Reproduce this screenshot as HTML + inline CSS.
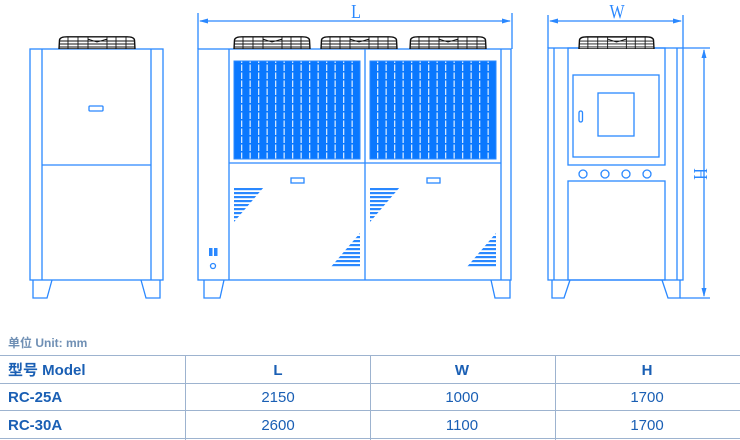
<!DOCTYPE html>
<html><head><meta charset="utf-8"><style>
body{margin:0;background:#fff;width:740px;height:440px;overflow:hidden;font-family:"Liberation Sans","Noto Sans CJK SC",sans-serif}
svg{position:absolute;left:0;top:0}
</style></head><body>
<svg width="740" height="440" viewBox="0 0 740 440" xmlns="http://www.w3.org/2000/svg">
<defs>
<symbol id="fan" viewBox="0 0 78 13">
<path d="M1,13 L1.5,4 Q2,0.8 9,0.8 L69,0.8 Q76,0.8 76.5,4 L77,13 Z" fill="#fff" stroke="#111" stroke-width="1.4"/>
<path d="M1.5,5 H76.5 M1.3,8 H76.7 M1.1,11 H77 M10,0.5V13 M20,0.5V13 M30,1V13 M49,1V13 M58,0.5V13 M68,0.5V13 M30,3 L39,6 L49,3" stroke="#111" stroke-width="0.9" fill="none"/>
</symbol>
<pattern id="coil" width="8.5" height="8" patternUnits="userSpaceOnUse">
<rect width="8.5" height="8" fill="#0a78ff"/>
<rect x="3" y="0.5" width="1.3" height="6.5" fill="#cfe6ff"/>
</pattern>
<pattern id="lv" width="4" height="4" patternUnits="userSpaceOnUse">
<rect width="4" height="2.2" fill="#2a88ff"/>
</pattern>
</defs>
<g fill="none" stroke="#2a88ff" stroke-width="1.3">
<rect x="30" y="49" width="133" height="231"/>
<line x1="42" y1="49" x2="42" y2="280"/><line x1="151" y1="49" x2="151" y2="280"/>
<line x1="42" y1="165" x2="151" y2="165"/>
<rect x="89" y="106" width="14" height="5" rx="1"/>
<path d="M33,280 V298 H47 L52,280 M160,280 V298 H146 L141,280"/>
<rect x="198" y="49" width="313" height="231"/>
<line x1="229" y1="49" x2="229" y2="280"/><line x1="365" y1="49" x2="365" y2="280"/><line x1="501" y1="49" x2="501" y2="280"/>
<line x1="229" y1="163" x2="501" y2="163"/>
<rect x="291" y="178" width="13" height="5"/><rect x="427" y="178" width="13" height="5"/>
<circle cx="213" cy="266" r="2.5"/>
<path d="M204,280 V298 H220 L224,280 M510,280 V298 H495 L491,280"/>
<line x1="198" y1="13" x2="198" y2="49"/><line x1="512" y1="13" x2="512" y2="49"/>
<line x1="200" y1="21" x2="510" y2="21"/>
<rect x="548" y="48" width="135" height="232"/>
<line x1="554" y1="48" x2="554" y2="280"/><line x1="677" y1="48" x2="677" y2="280"/>
<rect x="568" y="48" width="97" height="117"/>
<rect x="573" y="75" width="86" height="82"/>
<rect x="598" y="93" width="36" height="43"/>
<rect x="579" y="111" width="3.5" height="11" rx="1.7"/>
<circle cx="583" cy="174" r="4"/><circle cx="605" cy="174" r="4"/><circle cx="626" cy="174" r="4"/><circle cx="647" cy="174" r="4"/>
<rect x="568" y="181" width="97" height="99"/>
<path d="M552,280 V298 H564 L570,280 M680,280 V298 H668 L662,280"/>
<line x1="548" y1="15" x2="548" y2="48"/><line x1="683" y1="15" x2="683" y2="48"/>
<line x1="550" y1="21" x2="681" y2="21"/>
<line x1="683" y1="48" x2="710" y2="48"/><line x1="680" y1="298" x2="710" y2="298"/>
<line x1="704" y1="50" x2="704" y2="296"/>
</g>
<g fill="#2a88ff">
<path d="M199,21 l9,-2.5 v5z M511,21 l-9,-2.5 v5z M549,21 l9,-2.5 v5z M682,21 l-9,-2.5 v5z M704,49 l-2.5,9 h5z M704,297 l-2.5,-9 h5z"/>
<rect x="209" y="248" width="3.5" height="8"/><rect x="214" y="248" width="3.5" height="8"/>
</g>
<rect x="234" y="61" width="126" height="98" fill="url(#coil)" stroke="#2a88ff"/>
<rect x="370" y="61" width="126" height="98" fill="url(#coil)" stroke="#2a88ff"/>
<path d="M234,187 H264 L234,222 Z M360,233 V268 H330 Z" fill="url(#lv)"/>
<path d="M370,187 H400 L370,222 Z M496,233 V268 H466 Z" fill="url(#lv)"/>
<use href="#fan" x="58" y="36" width="78" height="13"/>
<use href="#fan" x="233" y="36" width="78" height="13"/>
<use href="#fan" x="320" y="36" width="78" height="13"/>
<use href="#fan" x="409" y="36" width="78" height="13"/>
<use href="#fan" x="578" y="36" width="77" height="13"/>
<g fill="#2a88ff" font-family="Liberation Serif,serif" font-size="20">
<text x="0" y="0" text-anchor="middle" transform="translate(356,18) scale(0.8,1)">L</text>
<text x="0" y="0" text-anchor="middle" transform="translate(617,18) scale(0.8,1)">W</text>
<text x="0" y="0" text-anchor="middle" transform="translate(694,174) rotate(90) scale(0.8,1)">H</text>
</g>
<text x="8" y="347" font-size="12" font-weight="bold" fill="#6f8fb4">单位 Unit:  mm</text>
<g stroke="#9db3cf" stroke-width="1">
<line x1="0" y1="355.5" x2="740" y2="355.5"/><line x1="0" y1="383.5" x2="740" y2="383.5"/>
<line x1="0" y1="410.5" x2="740" y2="410.5"/><line x1="0" y1="438.5" x2="740" y2="438.5"/>
<line x1="185.5" y1="355" x2="185.5" y2="440"/><line x1="370.5" y1="355" x2="370.5" y2="440"/><line x1="555.5" y1="355" x2="555.5" y2="440"/>
</g>
<g font-size="15" fill="#1a5fb4">
<text x="8" y="375" font-weight="bold" font-size="15">型号 Model</text>
<text x="278" y="375" font-weight="bold" text-anchor="middle">L</text>
<text x="462" y="375" font-weight="bold" text-anchor="middle">W</text>
<text x="647" y="375" font-weight="bold" text-anchor="middle">H</text>
<text x="8" y="402" font-weight="bold">RC-25A</text>
<text x="278" y="402" text-anchor="middle">2150</text>
<text x="462" y="402" text-anchor="middle">1000</text>
<text x="647" y="402" text-anchor="middle">1700</text>
<text x="8" y="430" font-weight="bold">RC-30A</text>
<text x="278" y="430" text-anchor="middle">2600</text>
<text x="462" y="430" text-anchor="middle">1100</text>
<text x="647" y="430" text-anchor="middle">1700</text>
</g>
</svg>
</body></html>
